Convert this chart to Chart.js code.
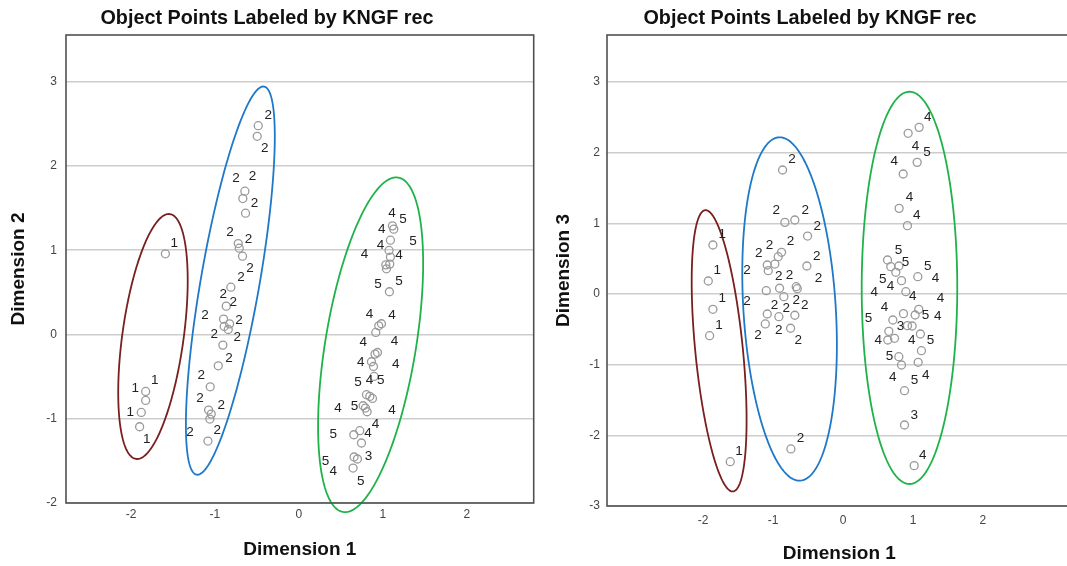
<!DOCTYPE html>
<html>
<head>
<meta charset="utf-8">
<title>Object Points Labeled by KNGF rec</title>
<script src="https://cdn.jsdelivr.net/npm/chart.js@4.4.0/dist/chart.umd.min.js"></script>
<style>
  html, body { margin: 0; padding: 0; background: #fff; overflow: hidden; }
  #graficoDim2 { position: absolute; left: 0; top: 0; }
  #graficoDim3 { position: absolute; left: 543px; top: 0; }
</style>
</head>
<body>
<canvas id="graficoDim2" width="539" height="566"></canvas>
<canvas id="graficoDim3" width="534" height="566"></canvas>
<script>
// tick values
const xTicks = [-2, -1, 0, 1, 2];
const yTicksDim2 = [-2, -1, 0, 1, 2, 3];
const yTicksDim3 = [-3, -2, -1, 0, 1, 2, 3];

// Chart 1 - object points, dimension 1 x dimension 2
const dim1A = [-1.59, -1.825, -1.825, -1.877, -1.897,
  -0.484, -0.496, -0.643, -0.667, -0.635, -0.722, -0.710, -0.671, -0.810, -0.865, -0.897,
  -0.825, -0.889, -0.841, -0.905, -0.960, -1.056, -1.075, -1.044, -1.060, -1.083,
  1.115, 1.131, 1.091, 1.075, 1.091, 1.036, 1.083, 1.044, 1.079, 0.984, 0.952, 0.917,
  0.937, 0.908, 0.865, 0.889, 0.896, 0.806, 0.845, 0.877, 0.766, 0.794, 0.813,
  0.726, 0.655, 0.746, 0.658, 0.698, 0.646];
const dim2 = [0.957, -0.676, -0.783, -0.925, -1.095,
  2.478, 2.352, 1.700, 1.613, 1.439, 1.079, 1.024, 0.929, 0.561, 0.336, 0.182,
  0.126, 0.095, 0.059, -0.126, -0.372, -0.621, -0.897, -0.945, -1.004, -1.265,
  1.289, 1.250, 1.119, 0.997, 0.918, 0.826, 0.835, 0.779, 0.507, 0.127, 0.103, 0.024,
  -0.214, -0.233, -0.324, -0.380, -0.498, -0.715, -0.735, -0.759, -0.846, -0.873, -0.917,
  -1.142, -1.190, -1.288, -1.454, -1.478, -1.585];

// KNGF rec labels of chart 1
const labDim1A = [-1.484, -1.718, -1.948, -2.008, -1.813,
  -0.365, -0.405, -0.750, -0.552, -0.528, -0.821, -0.599, -0.583, -0.690, -0.901, -0.782,
  -1.119, -0.714, -1.008, -0.734, -0.833, -1.163, -1.179, -0.925, -1.298, -0.972,
  1.111, 1.242, 0.988, 1.361, 0.972, 0.782, 1.194, 0.944, 1.194, 0.841, 1.111, 0.766,
  1.139, 0.738, 1.155, 0.706, 0.841, 0.976, 0.468, 0.663, 1.111, 0.913, 0.409, 0.825,
  0.829, 0.317, 0.409, 0.738];
const labDim2 = [1.083, -0.549, -0.644, -0.925, -1.241,
  2.605, 2.209, 1.854, 1.881, 1.553, 1.209, 1.134, 0.783, 0.676, 0.482, 0.379,
  0.229, 0.174, 0.008, -0.032, -0.281, -0.482, -0.759, -0.838, -1.162, -1.138,
  1.439, 1.372, 1.253, 1.111, 1.059, 0.957, 0.941, 0.601, 0.632, 0.241, 0.233, -0.095,
  -0.079, -0.332, -0.356, -0.565, -0.549, -0.538, -0.881, -0.850, -0.905, -1.071, -1.190, -1.178,
  -1.443, -1.502, -1.625, -1.739];
const labRecA = [1, 1, 1, 1, 1,
  2, 2, 2, 2, 2, 2, 2, 2, 2, 2, 2, 2, 2, 2, 2, 2, 2, 2, 2, 2, 2,
  4, 5, 4, 5, 4, 4, 4, 5, 5, 4, 4, 4, 4, 4, 4, 5, 4, 5, 4, 5, 4, 4, 5, 4, 3, 5, 4, 5];

// Chart 2 - object points, dimension 1 x dimension 3
const dim1B = [-1.860, -1.926, -1.860, -1.907, -1.612,
  -0.864, -0.831, -0.689, -0.507, -0.879, -0.926, -0.974, -1.083, -1.069, -0.517, -1.097,
  -0.907, -0.846, -0.669, -0.654, -1.083, -0.917, -0.689, -1.111, -0.750, -0.745,
  0.931, 1.088, 1.060, 0.860, 0.802, 0.921, 0.636, 0.683, 0.798, 0.755, 0.836, 1.069,
  0.898, 0.864, 1.083, 1.031, 0.712, 0.921, 0.988, 0.655, 0.640, 0.736, 1.106, 1.121,
  0.798, 0.836, 1.074, 0.879, 0.879, 1.017];
const dim3 = [0.693, 0.184, -0.217, -0.590, -2.373,
  1.755, 1.014, 1.047, 0.820, 0.590, 0.528, 0.424, 0.410, 0.330, 0.396, 0.047,
  0.081, -0.038, 0.103, 0.075, -0.283, -0.321, -0.301, -0.424, -0.485, -2.193,
  2.274, 2.358, 1.863, 1.698, 1.212, 0.967, 0.481, 0.387, 0.396, 0.307, 0.189, 0.245,
  0.033, -0.278, -0.217, -0.297, -0.368, -0.448, -0.453, -0.528, -0.651, -0.627, -0.566, -0.802,
  -0.887, -1.005, -0.967, -1.368, -1.854, -2.429];

// KNGF rec labels of chart 2
const labDim1B = [-1.726, -1.798, -1.726, -1.774, -1.488,
  -0.731, -0.955, -0.540, -0.369, -1.050, -0.750, -1.203, -0.374, -1.374, -0.917, -0.764,
  -0.350, -1.374, -0.979, -0.669, -0.546, -0.811, -1.217, -0.917, -0.640, -0.607,
  1.212, 1.036, 1.202, 0.731, 0.950, 1.055, 0.793, 0.893, 1.212, 0.569, 0.679, 1.321,
  0.445, 0.998, 1.393, 0.593, 0.364, 0.821, 1.179, 1.355, 0.502, 0.983, 1.250, 0.664,
  0.712, 1.021, 1.183, 1.017, 1.140];
const labDim3 = [0.849, 0.330, -0.061, -0.439, -2.231,
  1.906, 1.179, 1.188, 0.952, 0.693, 0.740, 0.576, 0.537, 0.339, 0.255, 0.269,
  0.222, -0.099, -0.156, -0.095, -0.156, -0.202, -0.580, -0.519, -0.661, -2.042,
  2.500, 2.094, 2.005, 1.882, 1.368, 1.118, 0.623, 0.448, 0.396, 0.208, 0.104, 0.217,
  0.019, -0.038, -0.061, -0.193, -0.349, -0.453, -0.297, -0.311, -0.651, -0.651, -0.651, -0.887,
  -1.184, -1.217, -1.151, -1.712, -2.278];
const labRecB = [1, 1, 1, 1, 1,
  2, 2, 2, 2, 2, 2, 2, 2, 2, 2, 2, 2, 2, 2, 2, 2, 2, 2, 2, 2, 2,
  4, 4, 5, 4, 4, 4, 5, 5, 5, 5, 4, 4, 4, 4, 4, 4, 5, 3, 5, 4, 4, 4, 5, 5, 4, 5, 4, 3, 4];

// hand drawn cluster ellipses (data units, tilt from vertical in degrees)
const ellipsesA = [
  { cx: -1.738, cy: -0.024, a: 1.467, b: 0.365, tilt: 7.9, color: '#7a1f1f' },
  { cx: -0.816, cy: 0.639, a: 2.338, b: 0.350, tilt: 9.9, color: '#1f78c8' },
  { cx: 0.855, cy: -0.122, a: 2.011, b: 0.540, tilt: 9.4, color: '#1fb24a' }
];
const ellipsesB = [
  { cx: -1.771, cy: -0.804, a: 2.000, b: 0.340, tilt: -5.7, color: '#7a1f1f' },
  { cx: -0.764, cy: -0.212, a: 2.434, b: 0.660, tilt: -3.6, color: '#1f78c8' },
  { cx: 0.950, cy: 0.087, a: 2.776, b: 0.683, tilt: 0, color: '#1fb24a' }
];

const FONT = '"Liberation Sans", Arial, Helvetica, sans-serif';

// ellipses, point labels and the frame
const spssPlugin = {
  id: 'spss',
  afterDatasetsDraw(chart, args, opts) {
    const { ctx, chartArea: area } = chart;
    const xs = chart.scales.x, ys = chart.scales.y;
    ctx.save();
    ctx.lineWidth = 1.8;
    opts.ellipses.forEach(e => {
      const r = e.tilt * Math.PI / 180;
      ctx.beginPath();
      for (let i = 0; i <= 200; i++) {
        const t = i / 200 * Math.PI * 2;
        const u = e.a * Math.cos(t), v = e.b * Math.sin(t);
        const px = xs.getPixelForValue(e.cx + u * Math.sin(r) + v * Math.cos(r));
        const py = ys.getPixelForValue(e.cy + u * Math.cos(r) - v * Math.sin(r));
        if (i === 0) ctx.moveTo(px, py); else ctx.lineTo(px, py);
      }
      ctx.closePath();
      ctx.strokeStyle = e.color;
      ctx.stroke();
    });

    ctx.fillStyle = '#222';
    ctx.font = '13.5px ' + FONT;
    ctx.textAlign = 'center';
    ctx.textBaseline = 'middle';
    const labels = chart.data.datasets[1].data;
    chart.getDatasetMeta(1).data.forEach((el, i) => {
      ctx.fillText(String(labels[i].rec), el.x, el.y);
    });

    ctx.strokeStyle = '#505050';
    ctx.lineWidth = 1.6;
    ctx.strokeRect(area.left, area.top, area.right - area.left, area.bottom - area.top);
    ctx.restore();
  }
};

function scatterChart(id, px, py, lx, ly, lrec, s) {
  const ctx = document.getElementById(id).getContext('2d');
  return new Chart(ctx, {
    type: 'scatter',
    data: {
      datasets: [{
        label: 'Object points',
        data: px.map((v, i) => ({ x: v, y: py[i] })),
        pointRadius: 4,
        pointBorderWidth: 1.3,
        pointBorderColor: '#9a9a9a',
        pointBackgroundColor: 'rgba(0,0,0,0)'
      }, {
        label: 'KNGF rec',
        data: lx.map((v, i) => ({ x: v, y: ly[i], rec: lrec[i] })),
        pointRadius: 0
      }]
    },
    options: {
      responsive: false,
      animation: false,
      // chart.js keeps at least 5px right of the plot anyway, this only moves the title
      layout: { padding: { left: 0, right: s.padRight, top: 0, bottom: 0 } },
      plugins: {
        legend: { display: false },
        tooltip: { enabled: false },
        title: {
          display: true,
          text: 'Object Points Labeled by KNGF rec',
          color: '#111',
          font: { family: FONT, size: 19.8, weight: 'bold' },
          padding: { top: 6.5, bottom: 4.74 }
        },
        spss: { ellipses: s.ellipses }
      },
      scales: {
        x: {
          type: 'linear',
          min: s.xMin,
          max: s.xMax,
          afterBuildTicks: axis => { axis.ticks = xTicks.map(v => ({ value: v })); },
          afterFit: axis => { axis.height = s.xHeight; },
          grid: { display: false, drawTicks: false },
          border: { display: false },
          ticks: { color: '#444', padding: s.xTickPad, font: { family: FONT, size: 12 } },
          title: {
            display: true,
            text: 'Dimension 1',
            color: '#111',
            font: { family: FONT, size: 19, weight: 'bold' },
            padding: { top: 0, bottom: s.xTitlePad }
          }
        },
        y: {
          type: 'linear',
          min: s.yMin,
          max: s.yMax,
          afterBuildTicks: axis => { axis.ticks = s.yTicks.map(v => ({ value: v })); },
          afterFit: axis => { axis.width = s.yWidth; },
          grid: { color: '#cdcdcd', lineWidth: 1.6, drawTicks: false },
          border: { display: false },
          ticks: { color: '#444', padding: s.yTickPad, font: { family: FONT, size: 12 } },
          title: {
            display: true,
            text: s.yTitle,
            color: '#111',
            font: { family: FONT, size: 19, weight: 'bold' },
            padding: { top: s.yTitlePad, bottom: 0 }
          }
        }
      }
    },
    plugins: [spssPlugin]
  });
}

// Chart 1
const graficoDim2 = scatterChart('graficoDim2', dim1A, dim2, labDim1A, labDim2, labRecA, {
  xMin: -2.774, xMax: 2.798, yMin: -2, yMax: 3.554, yTicks: yTicksDim2, yTitle: 'Dimension 2',
  padRight: 5, yWidth: 66, yTickPad: 9, yTitlePad: 7.6, xHeight: 63, xTickPad: 4, xTitlePad: 5.1,
  ellipses: ellipsesA
});

// Chart 2 (its right edge runs past the window, as in the original)
const graficoDim3 = scatterChart('graficoDim3', dim1B, dim3, labDim1B, labDim3, labRecB, {
  xMin: -3.374, xMax: 3.269, yMin: -3, yMax: 3.665, yTicks: yTicksDim3, yTitle: 'Dimension 3',
  padRight: 0, yWidth: 64, yTickPad: 7, yTitlePad: 9.6, xHeight: 60, xTickPad: 7.8, xTitlePad: 1.1,
  ellipses: ellipsesB
});
</script>
</body>
</html>
